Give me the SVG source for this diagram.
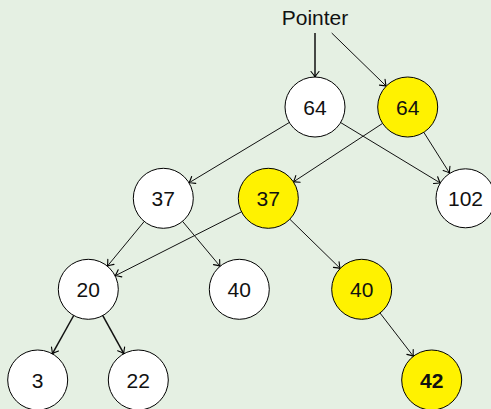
<svg xmlns="http://www.w3.org/2000/svg" width="491" height="409" viewBox="0 0 491 409">
<defs>
<marker id="arr" markerUnits="userSpaceOnUse" markerWidth="14" markerHeight="14" refX="0" refY="0" viewBox="-8 -7 10 14" orient="auto" overflow="visible">
<path d="M -5.5 -4 Q -1.8 -0.9 0 0 Q -1.8 0.9 -5.5 4" fill="none" stroke="#000" stroke-width="1.1" stroke-linecap="round"/>
</marker>
</defs>
<style>
.n{stroke:#000;stroke-width:1;fill:#fff}
.y{fill:#fff200}
.t{font-family:"Liberation Sans",Arial,sans-serif;font-size:21px;text-anchor:middle;fill:#111}
.b{font-weight:bold}
.e{stroke:#111;stroke-width:1;fill:none;marker-end:url(#arr)}
.k{stroke-width:1.5}
</style>
<rect width="491" height="409" fill="#e5f0e3"/>
<g id="connectors">
<line class="e k" x1="315" y1="33" x2="315" y2="77" stroke="#333"/>
<line class="e" x1="331.7" y1="33" x2="386.2" y2="86.1"/>
<line class="e" x1="289.3" y1="122.5" x2="189" y2="182.8"/>
<line class="e" x1="340.7" y1="122.6" x2="440.3" y2="183"/>
<line class="e" x1="382.6" y1="123.4" x2="293.4" y2="181.9"/>
<line class="e" x1="423.8" y1="132.3" x2="449.5" y2="173"/>
<line class="e" x1="144.2" y1="221.5" x2="107.4" y2="266.1"/>
<line class="e" x1="182.5" y1="221.3" x2="220.1" y2="266.3"/>
<line class="e" x1="241.5" y1="211.8" x2="115.1" y2="275.8"/>
<line class="e" x1="289.8" y1="219.2" x2="340.2" y2="268.4"/>
<line class="e k" x1="73.7" y1="315.5" x2="52.3" y2="353.8"/>
<line class="e k" x1="102.8" y1="315.6" x2="123.8" y2="353.7"/>
<line class="e" x1="380" y1="313" x2="413.4" y2="356.3"/>
</g>
<g id="pointer"><text class="t" x="315" y="25">Pointer</text></g>
<g id="n64w"><circle class="n" cx="315" cy="107" r="30"/><text class="t" x="315" y="114.5">64</text></g>
<g id="n64y"><circle class="n y" cx="407.7" cy="107" r="30"/><text class="t" x="407.7" y="114.5">64</text></g>
<g id="n37w"><circle class="n" cx="163.3" cy="198.3" r="30"/><text class="t" x="163.3" y="205.8">37</text></g>
<g id="n37y"><circle class="n y" cx="268.3" cy="198.3" r="30"/><text class="t" x="268.3" y="205.8">37</text></g>
<g id="n102"><circle class="n" cx="465.5" cy="198.3" r="29.5"/><text class="t" x="465.5" y="205.8">102</text></g>
<g id="n20"><circle class="n" cx="88.3" cy="289.3" r="30"/><text class="t" x="88.3" y="296.8">20</text></g>
<g id="n40w"><circle class="n" cx="239.3" cy="289.3" r="30"/><text class="t" x="239.3" y="296.8">40</text></g>
<g id="n40y"><circle class="n y" cx="361.7" cy="289.3" r="30"/><text class="t" x="361.7" y="296.8">40</text></g>
<g id="n3"><circle class="n" cx="37.7" cy="380" r="30"/><text class="t" x="37.7" y="387.5">3</text></g>
<g id="n22"><circle class="n" cx="138.3" cy="380" r="30"/><text class="t" x="138.3" y="387.5">22</text></g>
<g id="n42"><circle class="n y" cx="431.7" cy="380" r="30"/><text class="t b" x="431.7" y="387.5">42</text></g>
</svg>
